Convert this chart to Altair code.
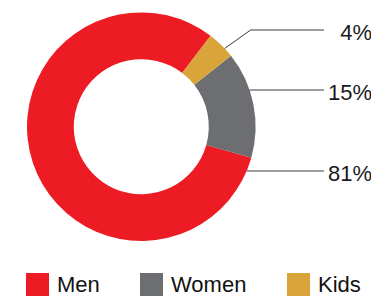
import math
import altair as alt
import pandas as pd

# ---- data ----
categories = ["Men", "Women", "Kids"]
shares = [81, 15, 4]
pct_labels = ["81%", "15%", "4%"]
colors = ["#ED1C24", "#6D6E71", "#D9A53B"]
stack_rank = [0, 2, 1]  # clockwise order: Men, Kids, Women

# ---- layout (chart pixel space) ----
W, H = 363, 290
CX, CY = 133.3, 118.7
R_OUT, R_IN = 114.3, 67.5
START = math.radians(105.7)
row_y = [163, 82, 22]          # leader line rows for Men, Women, Kids
LINE_END_X = 316
LABEL_X = 364
KIDS_ANCHOR_DEG = 46.8
KIDS_ELBOW_X = 242.7

font = "Liberation Sans"

arc_df = pd.DataFrame({"category": categories, "share": shares, "rank": stack_rank})

# leader segments computed from the ring geometry
seg_rows = []
for cat, y in zip(categories, row_y):
    if cat == "Kids":
        a = math.radians(KIDS_ANCHOR_DEG)
        ax, ay = CX + R_OUT * math.sin(a), CY - R_OUT * math.cos(a)
        seg_rows.append({"x": ax, "y": ay, "x2": KIDS_ELBOW_X, "y2": y})
        seg_rows.append({"x": KIDS_ELBOW_X, "y": y, "x2": LINE_END_X, "y2": y})
    else:
        ax = CX + math.sqrt(R_OUT ** 2 - (y - CY) ** 2)
        seg_rows.append({"x": ax, "y": y, "x2": LINE_END_X, "y2": y})
seg_df = pd.DataFrame(seg_rows)

lab_df = pd.DataFrame({"label": pct_labels, "x": [LABEL_X] * 3, "y": [y + 10 for y in row_y]})

xs = alt.Scale(domain=[0, W], nice=False, zero=False)
ys = alt.Scale(domain=[0, H], nice=False, zero=False, reverse=True)

arc = alt.Chart(arc_df).mark_arc(outerRadius=R_OUT, innerRadius=R_IN).encode(
    theta=alt.Theta("share:Q", stack=True, scale=alt.Scale(range=[START, START + 2 * math.pi])),
    color=alt.Color(
        "category:N",
        scale=alt.Scale(domain=categories, range=colors),
        legend=alt.Legend(
            title=None, orient="none", legendX=18, legendY=265, direction="horizontal",
            symbolType="square", symbolSize=529, symbolStrokeWidth=0,
            labelFont=font, labelFontSize=22, labelColor="#111111",
            labelOffset=8, columnPadding=40, padding=0,
        ),
    ),
    order=alt.Order("rank:Q"),
    x=alt.value(CX),
    y=alt.value(CY),
)

lines = alt.Chart(seg_df).mark_rule(color="#3a3a3a", strokeWidth=1).encode(
    x=alt.X("x:Q", scale=xs, axis=None),
    y=alt.Y("y:Q", scale=ys, axis=None),
    x2="x2:Q",
    y2="y2:Q",
)

texts = alt.Chart(lab_df).mark_text(
    align="right", baseline="alphabetic", font=font, fontSize=22, color="#1a1a1a"
).encode(
    x=alt.X("x:Q", scale=xs, axis=None),
    y=alt.Y("y:Q", scale=ys, axis=None),
    text="label:N",
)

chart = alt.layer(arc, lines, texts).properties(
    width=W, height=H, padding=0, autosize=alt.AutoSizeParams(type="none")
).configure_view(stroke=None)

chart.save("out.html", embed_options={"renderer": "svg", "actions": False})
